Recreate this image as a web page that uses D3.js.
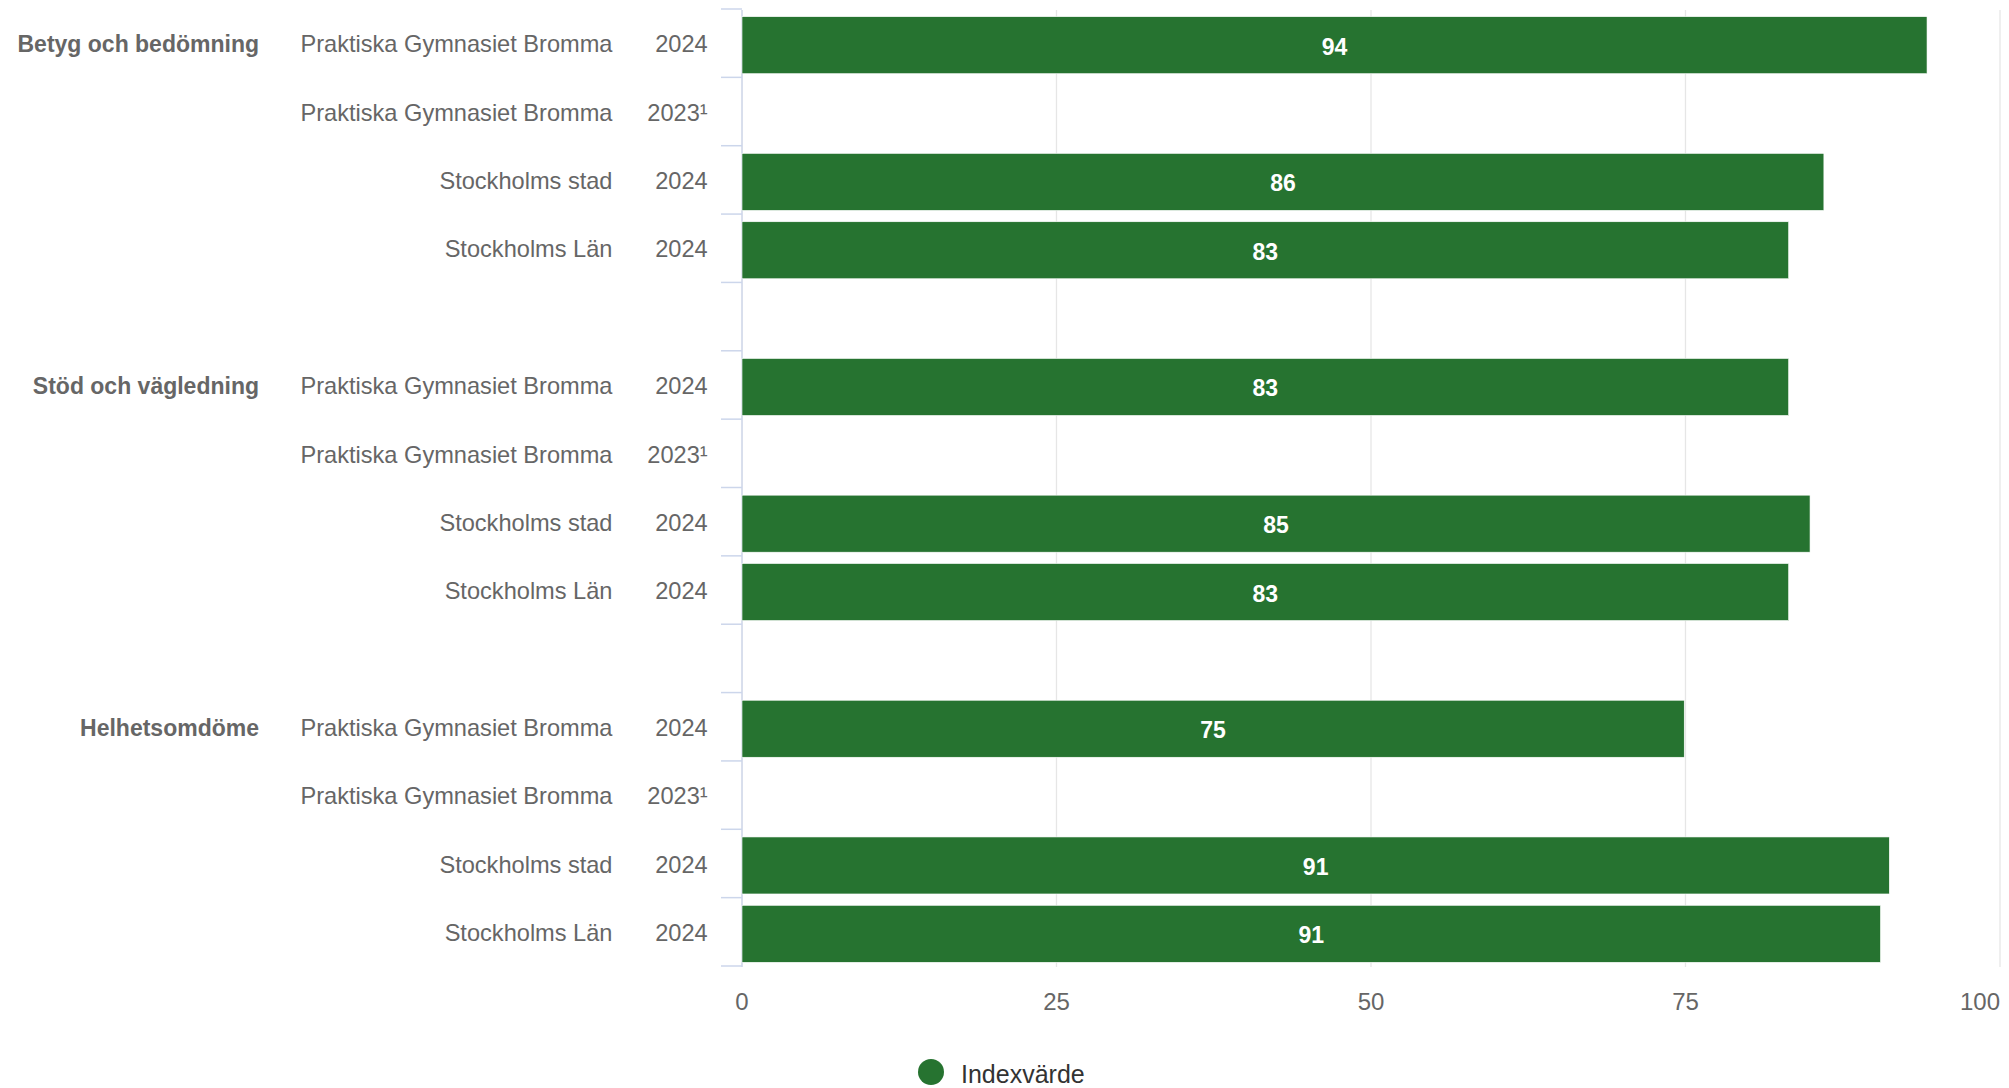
<!DOCTYPE html>
<html>
<head>
<meta charset="utf-8">
<script src="https://cdn.jsdelivr.net/npm/d3@7"></script>
<style>
  html, body { margin: 0; padding: 0; background: #fff; }
  svg { display: block; font-family: "Liberation Sans", Arial, Helvetica, sans-serif; }
</style>
</head>
<body>
<svg id="chart" width="2009" height="1088"></svg>
<script>
// ---- data ----
const groups = ["Betyg och bedömning", "Stöd och vägledning", "Helhetsomdöme"];
const units = ["Praktiska Gymnasiet Bromma", "Praktiska Gymnasiet Bromma", "Stockholms stad", "Stockholms Län"];
const years = ["2024", "2023¹", "2024", "2024"];
const betygValues = [94.2, null, 86.0, 83.2];
const stodValues = [83.2, null, 84.9, 83.2];
const helhetValues = [74.9, null, 91.2, 90.5];
const xTicks = [0, 25, 50, 75, 100];
const seriesName = "Indexvärde";

// ---- layout ----
const W = 2009, H = 1088;
const plotLeft = 742, plotRight = 2000, plotTop = 11, plotBottom = 968;
const green = "#267330";
const labelColor = "#666666";

const groupValues = [betygValues, stodValues, helhetValues];
const rows = [];
groups.forEach((g, gi) => {
  units.forEach((u, ui) => {
    rows.push({ idx: gi * (units.length + 1) + ui, group: g, first: ui === 0, unit: u, year: years[ui], value: groupValues[gi][ui] });
  });
});
const nRows = groups.length * (units.length + 1) - 1;

const svg = d3.select("#chart");

const x = d3.scaleLinear().domain([0, 100]).range([plotLeft, plotRight]);
const y = d3.scaleBand().domain(d3.range(nRows)).range([plotTop, plotBottom]).paddingInner(0).paddingOuter(0);
const barH = y.bandwidth() * 0.834;

// gridlines
svg.append("g").selectAll("line").data(xTicks).join("line")
  .attr("x1", d => x(d)).attr("x2", d => x(d))
  .attr("y1", plotTop - 1).attr("y2", plotBottom - 1)
  .attr("stroke", "#e6e6e6").attr("stroke-width", 1.3);

// category axis line + ticks
svg.append("line")
  .attr("x1", plotLeft).attr("x2", plotLeft)
  .attr("y1", plotTop - 1).attr("y2", plotBottom - 1)
  .attr("stroke", "#ccd6eb").attr("stroke-width", 1.3);
svg.append("g").selectAll("line").data(d3.range(nRows + 1)).join("line")
  .attr("x1", plotLeft - 21).attr("x2", plotLeft)
  .attr("y1", d => plotTop - 2 + d * y.step()).attr("y2", d => plotTop - 2 + d * y.step())
  .attr("stroke", "#ccd6eb").attr("stroke-width", 1.5);

// bars
const barRows = rows.filter(r => r.value != null);
svg.append("g").selectAll("rect").data(barRows).join("rect")
  .attr("x", x(0))
  .attr("y", d => y(d.idx) + (y.bandwidth() - barH) / 2)
  .attr("width", d => x(d.value) - x(0))
  .attr("height", barH)
  .attr("fill", green)
  .attr("stroke", "#ffffff").attr("stroke-width", 0.6);

// value labels
svg.append("g").selectAll("text").data(barRows).join("text")
  .attr("x", d => (x(0) + x(d.value)) / 2)
  .attr("y", d => y(d.idx) + y.bandwidth() / 2 + 9.5)
  .attr("text-anchor", "middle")
  .attr("fill", "#ffffff")
  .attr("font-weight", "bold")
  .attr("font-size", "23px")
  .text(d => Math.round(d.value));

// category labels
const cy = d => y(d.idx) + y.bandwidth() / 2 + 7.2;
svg.append("g").selectAll("text").data(rows).join("text")
  .attr("x", 612.5).attr("y", cy)
  .attr("text-anchor", "end").attr("fill", labelColor).attr("font-size", "23.6px")
  .text(d => d.unit);
svg.append("g").selectAll("text").data(rows).join("text")
  .attr("x", 707.7).attr("y", cy)
  .attr("text-anchor", "end").attr("fill", labelColor).attr("font-size", "23.6px")
  .text(d => d.year);
svg.append("g").selectAll("text").data(rows.filter(r => r.first)).join("text")
  .attr("x", 259).attr("y", cy)
  .attr("text-anchor", "end").attr("fill", labelColor).attr("font-size", "23px").attr("font-weight", "bold")
  .text(d => d.group);

// x axis labels (last one kept inside the page, as in the reference)
const lastTick = xTicks[xTicks.length - 1];
svg.append("g").selectAll("text").data(xTicks).join("text")
  .attr("x", d => d === lastTick ? x(d) : x(d))
  .attr("y", 1010)
  .attr("text-anchor", d => d === lastTick ? "end" : "middle")
  .attr("fill", labelColor).attr("font-size", "24px")
  .text(d => d);

// legend
const legend = svg.append("g");
legend.append("circle").attr("cx", 931).attr("cy", 1072).attr("r", 13).attr("fill", green);
legend.append("text").attr("x", 961).attr("y", 1083)
  .attr("fill", "#333333").attr("font-size", "25px").text(seriesName);
</script>
</body>
</html>
